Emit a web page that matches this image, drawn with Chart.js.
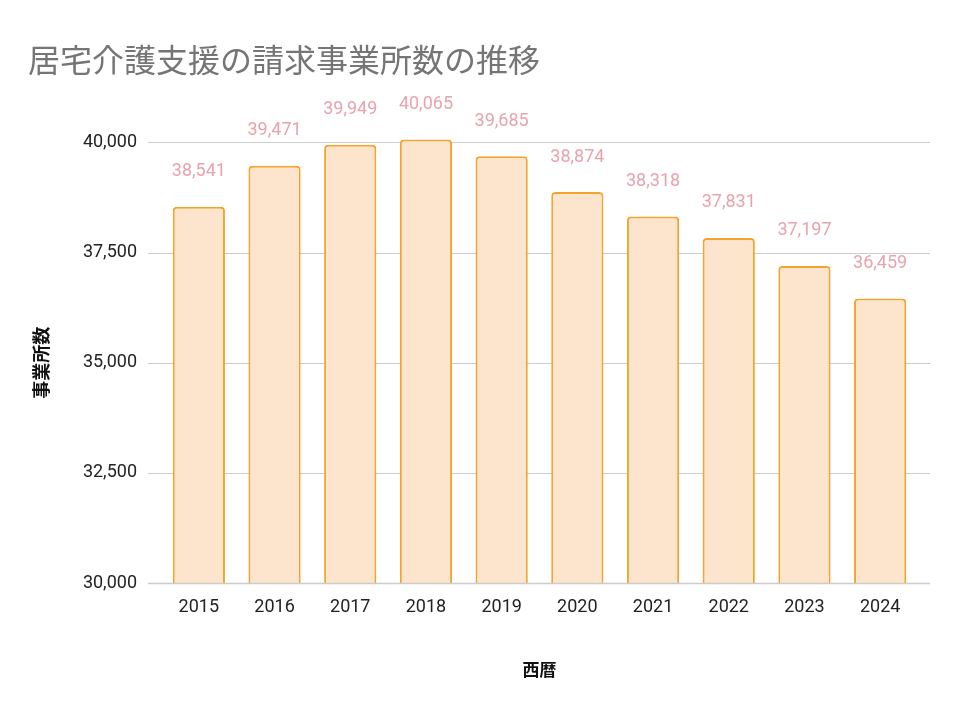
<!DOCTYPE html>
<html>
<head>
<meta charset="utf-8">
<script src="https://cdn.jsdelivr.net/npm/chart.js@4/dist/chart.umd.min.js"></script>
<style>
  body { margin: 0; background: #fff; }
  #wrap { width: 960px; height: 720px; }
</style>
</head>
<body>
<div id="wrap"><canvas id="officeChart" width="960" height="720"></canvas></div>
<script>
// data
const years = ["2015", "2016", "2017", "2018", "2019", "2020", "2021", "2022", "2023", "2024"];
const officeCounts = [38541, 39471, 39949, 40065, 39685, 38874, 38318, 37831, 37197, 36459];
const yTicks = [30000, 32500, 35000, 37500, 40000];

const drawGridLine = function (chart, v) {
  const { ctx, chartArea, scales } = chart;
  const y = Math.round(scales.y.getPixelForValue(v)) + 0.5;
  ctx.beginPath();
  ctx.moveTo(chartArea.left - 13, y);
  ctx.lineTo(chartArea.right + 12, y);
  ctx.stroke();
};

// grid lines run a bit past the bars on both sides, like the original
const gridPlugin = {
  id: "wideGrid",
  beforeDatasetsDraw(chart) {
    const { ctx } = chart;
    ctx.save();
    ctx.strokeStyle = "#cccccc";
    ctx.lineWidth = 1;
    yTicks.forEach((v) => drawGridLine(chart, v));
    ctx.restore();
  },
  afterDatasetsDraw(chart) {
    // baseline sits on top of the bars
    const { ctx } = chart;
    ctx.save();
    ctx.strokeStyle = "#cccccc";
    ctx.lineWidth = 1.5;
    drawGridLine(chart, yTicks[0]);
    ctx.restore();
  }
};

// value labels above bars
const labelPlugin = {
  id: "barLabels",
  afterDatasetsDraw(chart) {
    const { ctx } = chart;
    const meta = chart.getDatasetMeta(0);
    ctx.save();
    ctx.font = "18px Roboto";
    ctx.fillStyle = "#e8a3ad";
    ctx.textAlign = "center";
    ctx.textBaseline = "middle";
    meta.data.forEach((bar, i) => {
      const y = Math.max(bar.y - 35, 104);
      ctx.fillText(officeCounts[i].toLocaleString("en-US"), bar.x, y);
    });
    ctx.restore();
  }
};

document.addEventListener("DOMContentLoaded", function () {
  const ctx = document.getElementById("officeChart").getContext("2d");

  new Chart(ctx, {
    type: "bar",
    data: {
      labels: years,
      datasets: [
        {
          label: "事業所数",
          data: officeCounts,
          base: 30000,
          backgroundColor: "#fde5cd",
          borderColor: "#f2a52e",
          borderWidth: 2,
          borderSkipped: "bottom",
          borderRadius: { topLeft: 4, topRight: 4 },
          barPercentage: 0.69,
          categoryPercentage: 1,
          clip: false
        }
      ]
    },
    options: {
      responsive: false,
      animation: false,
      layout: { padding: { left: 28, right: 42, top: 0, bottom: 30 } },
      plugins: {
        legend: { display: false },
        tooltip: { enabled: false },
        title: {
          display: true,
          text: "居宅介護支援の請求事業所数の推移",
          align: "start",
          color: "#757575",
          font: { family: "'Noto Sans CJK JP'", size: 32, weight: "normal" },
          padding: { top: 41, bottom: 63 }
        }
      },
      scales: {
        x: {
          grid: { display: false, drawTicks: false },
          border: { display: false },
          ticks: {
            color: "#222",
            font: { family: "Roboto", size: 18 },
            padding: 14
          },
          title: {
            display: true,
            text: "西暦",
            color: "#111",
            font: { family: "'Noto Sans CJK JP'", size: 17, weight: "bold" },
            padding: { top: 0, bottom: 10 }
          },
          afterFit(scale) { scale.height = 107; }
        },
        y: {
          min: 30000,
          max: 40000,
          afterBuildTicks(scale) { scale.ticks = yTicks.map((v) => ({ value: v })); },
          grid: { display: false, drawTicks: false },
          border: { display: false },
          ticks: {
            color: "#222",
            font: { family: "Roboto", size: 18 },
            padding: 24,
            callback: (v) => v.toLocaleString("en-US")
          },
          title: {
            display: true,
            text: "事業所数",
            color: "#111",
            font: { family: "'Noto Sans CJK JP'", size: 18, weight: "bold" },
            padding: { top: 2, bottom: 0 }
          },
          afterFit(scale) { scale.width = 133; }
        }
      }
    },
    plugins: [gridPlugin, labelPlugin]
  });
});
</script>
</body>
</html>
